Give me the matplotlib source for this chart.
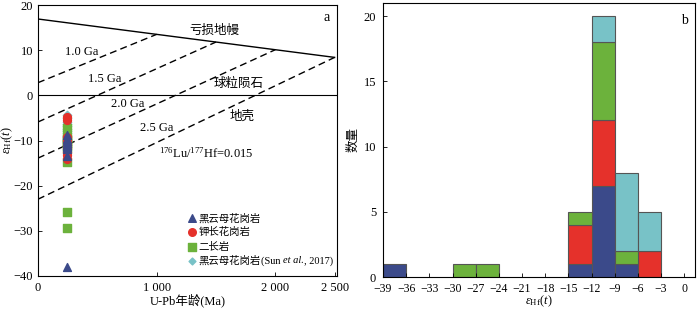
import numpy as np
import matplotlib
matplotlib.use("Agg")
import matplotlib.pyplot as plt
from matplotlib.offsetbox import TextArea, HPacker, AnnotationBbox

plt.rcParams['font.family'] = ['Liberation Serif', 'Noto Sans CJK SC']
plt.rcParams['mathtext.fontset'] = 'custom'
plt.rcParams['mathtext.rm'] = 'Liberation Serif'
plt.rcParams['mathtext.it'] = 'Liberation Serif:italic'
plt.rcParams['axes.unicode_minus'] = True

# ---------------- data: panel a ----------------
dm_eps_0 = 16.9          # depleted mantle eHf at 0 Ma
dm_eps_end = 8.4         # depleted mantle eHf at 2500 Ma
dm_age_end = 2500
model_ages = [1000, 1500, 2000, 2500]
model_labels = ["1.0 Ga", "1.5 Ga", "2.0 Ga", "2.5 Ga"]
model_eps_now = [2.8, -5.9, -13.9, -23.0]

biotite_age = [248, 248, 248, 248, 248, 248, 248, 248, 248, 248]
biotite_eps = [-37.9, -13.5, -11.8, -11.5, -11.2, -10.9, -10.6, -10.2, -9.6, -8.7]
kfs_age = [248, 248, 248, 248, 248, 248, 248, 248, 248, 248]
kfs_eps = [-14.0, -13.2, -12.5, -11.6, -11.0, -10.4, -9.8, -9.3, -5.5, -4.8]
monzo_age = [246, 246, 246, 246, 246, 246, 246, 246, 246, 246]
monzo_eps = [-29.3, -25.8, -14.8, -11.8, -11.3, -10.5, -10.0, -9.6, -9.2, -7.3]
sun_age = [245, 245, 245, 245, 245, 245, 245, 245, 245, 245, 245]
sun_eps = [-11.5, -10.2, -8.9, -8.4, -8.0, -7.5, -6.9, -6.3, -5.8, -5.0, -4.4]

legend_labels = ["黑云母花岗岩", "钾长花岗岩", "二长岩", "黑云母花岗岩"]
legend_ref = ["(Sun ", "et al.", ", 2017)"]

# ---------------- data: panel b ----------------
bin_edges = [-39, -36, -33, -30, -27, -24, -21, -18, -15, -12, -9, -6, -3]
cnt_biotite = [1, 0, 0, 0, 0, 0, 0, 0, 1, 7, 1, 0]
cnt_kfs     = [0, 0, 0, 0, 0, 0, 0, 0, 3, 5, 0, 2]
cnt_monzo   = [0, 0, 0, 1, 1, 0, 0, 0, 1, 6, 1, 0]
cnt_sun     = [0, 0, 0, 0, 0, 0, 0, 0, 0, 2, 6, 3]
xticks_b = [-39, -36, -33, -30, -27, -24, -21, -18, -15, -12, -9, -6, -3, 0]

c_blue = "#3b4a8a"
c_red = "#e5312b"
c_green = "#6cb23c"
c_cyan = "#78c2c7"

fig = plt.figure(figsize=(7, 3.1), dpi=100)
W, H = 700, 310
axa = fig.add_axes([38 / W, 1 - 276 / H, (337 - 38) / W, (276 - 5) / H])
axb = fig.add_axes([383 / W, 1 - 277 / H, (695 - 383) / W, (277 - 3) / H])

fs = 9
# ---- panel a ----
def dm(t):
    return dm_eps_0 + (dm_eps_end - dm_eps_0) * t / dm_age_end

axa.plot([0, dm_age_end], [dm(0), dm(dm_age_end)], color='black', lw=1.0)
axa.axhline(0, color='black', lw=0.8)
for T, e0 in zip(model_ages, model_eps_now):
    axa.plot([0, T], [e0, dm(T)], color='black', lw=1.0, ls=(0, (5, 3)))

axa.scatter(sun_age, sun_eps, marker='D', s=18, color=c_cyan, zorder=3)
axa.scatter(monzo_age, monzo_eps, marker='s', s=32, color=c_green, zorder=4)
axa.scatter(kfs_age, kfs_eps, marker='o', s=32, color=c_red, zorder=5)
axa.scatter(biotite_age, biotite_eps, marker='^', s=32, color=c_blue, zorder=6)

tk = dict(fontsize=fs, ha='center', va='center')
axa.text(364, 9.6, model_labels[0], **tk)
axa.text(560, 3.7, model_labels[1], **tk)
axa.text(755, -1.9, model_labels[2], **tk)
axa.text(1000, -7.3, model_labels[3], **tk)
axa.text(1490, 14.3, "亏损地幔", **tk)
axa.text(1690, 2.6, "球粒陨石", **tk)
axa.text(1720, -4.8, "地壳", **tk)
axa.text(1420, -12.8, "$^{176}$Lu/$^{177}$Hf=0.015", **tk)
axa.text(0.965, 0.955, "a", transform=axa.transAxes, fontsize=10, ha='center', va='center')

# legend
lx, ly0, dy = 1300, -27.2, 3.15
mk = [('^', c_blue, 30), ('o', c_red, 30), ('s', c_green, 30), ('D', c_cyan, 12)]
lfs = 7.5
for i, (m, c, s) in enumerate(mk):
    y = ly0 - i * dy
    axa.scatter([lx], [y], marker=m, s=s, color=c, zorder=7)
    if i < 3:
        axa.text(lx + 55, y, legend_labels[i], fontsize=lfs, ha='left', va='center')
    else:
        parts = [TextArea(legend_labels[i], textprops=dict(fontsize=lfs)),
                 TextArea(legend_ref[0], textprops=dict(fontsize=lfs)),
                 TextArea(legend_ref[1], textprops=dict(fontsize=lfs, style='italic')),
                 TextArea(legend_ref[2], textprops=dict(fontsize=lfs))]
        box = HPacker(children=parts, align='center', pad=0, sep=0)
        ab = AnnotationBbox(box, (lx + 55, y), xycoords='data', box_alignment=(0, 0.5),
                            frameon=False, pad=0)
        axa.add_artist(ab)

axa.set_xlim(0, 2520)
axa.set_ylim(-40, 20)
axa.set_xticks([0, 1000, 2000, 2500])
axa.set_xticklabels(["0", "1 000", "2 000", "2 500"])
axa.set_yticks([-40, -30, -20, -10, 0, 10, 20])
axa.tick_params(direction='in', labelsize=fs, length=3, width=0.6)
axa.tick_params(axis='x', pad=4)
axa.set_xlabel("U-Pb年龄(Ma)", fontsize=fs, labelpad=0)
axa.set_ylabel("$\\varepsilon_{\\rm Hf}(\\it{t})$", fontsize=fs, labelpad=-1)
for sp in axa.spines.values():
    sp.set_linewidth(0.8)

# ---- panel b ----
edges = np.array(bin_edges, dtype=float)
left = edges[:-1]
width = np.diff(edges)
b1 = np.array(cnt_biotite)
b2 = np.array(cnt_kfs)
b3 = np.array(cnt_monzo)
b4 = np.array(cnt_sun)
ec = "#555555"
bottom = np.zeros(len(left))
for cnt, col in [(b1, c_blue), (b2, c_red), (b3, c_green), (b4, c_cyan)]:
    m = cnt > 0
    axb.bar(left[m], cnt[m], width=width[m], bottom=bottom[m], align='edge',
            color=col, edgecolor=ec, linewidth=0.8)
    bottom = bottom + cnt

axb.set_xlim(-39, 1.4)
axb.set_ylim(0, 21)
axb.set_xticks(xticks_b)
axb.set_yticks([0, 5, 10, 15, 20])
axb.tick_params(direction='in', labelsize=fs, length=3, width=0.6)
axb.tick_params(axis='x', pad=4, labelsize=8.5)
axb.tick_params(axis='y', pad=5)
axb.set_xlabel("$\\varepsilon_{\\rm Hf}(\\it{t})$", fontsize=fs, labelpad=-1)
axb.set_ylabel("数量", fontsize=fs, labelpad=3)
axb.text(0.965, 0.935, "b", transform=axb.transAxes, fontsize=10, ha='center', va='center')
for sp in axb.spines.values():
    sp.set_linewidth(0.8)

fig.savefig("out.png", dpi=100)
